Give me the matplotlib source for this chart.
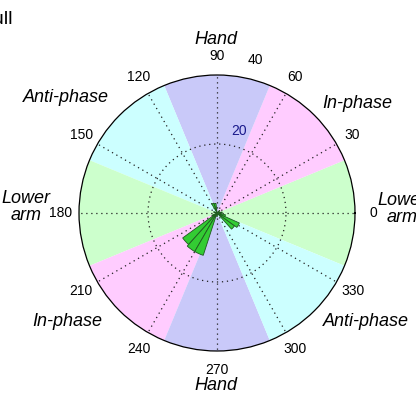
import numpy as np
import matplotlib
matplotlib.use('Agg')
import matplotlib.pyplot as plt

plt.rcParams['font.family'] = ['Liberation Sans', 'DejaVu Sans']

#background sectors (centre angle in degrees)
sector_centres = [0, 45, 90, 135, 180, 225, 270, 315]
sector_colours = ['#ccffcc', '#ffccff', '#c9c9f9', '#ccffff',
                  '#ccffcc', '#ffccff', '#c9c9f9', '#ccffff']

#rose histogram: bin centres (deg) and counts
bin_width = 12
bin_centres = [6, 42, 102, 114, 162, 210, 222, 234, 246, 270, 318, 330, 342, 354]
bin_counts = [1.5, 1.0, 2.8, 3.0, 1.0, 1.5, 12.3, 12.9, 12.9, 1.0, 6.3, 7.1, 2.5, 1.2]

#axis labels
angle_ticks = [0, 30, 60, 90, 120, 150, 180, 210, 240, 270, 300, 330]
radial_ticks = [20, 40]
r_max = 40

W, H = 416, 398
fig = plt.figure(figsize=(W / 100, H / 100), dpi=100)

def px(x, y):
    #pixel position (from top left) to figure fraction
    return x / W, 1 - y / H

cx, cy, rad = 217, 213, 138
ax = fig.add_axes([(cx - rad) / W, (H - cy - rad) / H, 2 * rad / W, 2 * rad / H],
                  projection='polar')
ax.set_ylim(0, r_max)
ax.grid(False)
ax.set_xticks([])
ax.set_yticks([])
ax.spines['polar'].set_linewidth(0.9)
ax.spines['polar'].set_color('black')

#coloured phase sectors
ax.bar(np.deg2rad(sector_centres), r_max, width=np.deg2rad(45), bottom=0,
       color=sector_colours, edgecolor='none', zorder=0)

#dotted spokes and the inner ring
dots = (0, (1, 3))
for a in angle_ticks:
    t = np.deg2rad(a)
    ax.plot([t, t], [0, r_max], color='#222222', lw=0.9, ls=dots, zorder=1)
ring_t = np.linspace(0, 2 * np.pi, 200)
ax.plot(ring_t, np.full_like(ring_t, radial_ticks[0]), color='#222222', lw=0.9,
        ls=dots, zorder=1)

#rose wedges
ax.bar(np.deg2rad(bin_centres), bin_counts, width=np.deg2rad(bin_width), bottom=0,
       color='#33cc33', edgecolor='#1f5a1f', linewidth=0.6, zorder=3)

#angle labels
for a in angle_ticks:
    ax.text(np.deg2rad(a), 45.4, str(a), ha='center', va='center', fontsize=10,
            clip_on=False)
ax.text(np.deg2rad(75), 24.5, str(radial_ticks[0]), ha='center', va='center',
        fontsize=10, color='#1a1a8c', clip_on=False)
ax.text(np.deg2rad(76), 45.8, str(radial_ticks[1]), ha='center', va='center',
        fontsize=10, clip_on=False)

#phase names
lab = dict(ha='center', va='center', fontsize=13, style='italic')
fig.text(*px(216, 40), 'Hand', **lab)
fig.text(*px(216, 385), 'Hand', **lab)
fig.text(*px(66, 98), 'Anti-phase', **lab)
fig.text(*px(357, 103), 'In-phase', **lab)
fig.text(*px(67, 321), 'In-phase', **lab)
fig.text(*px(366, 321), 'Anti-phase', **lab)
fig.text(*px(26, 207), 'Lower\narm', linespacing=1.0, **lab)
fig.text(*px(402, 209), 'Lower\narm', linespacing=1.0, **lab)

fig.text(*px(13, 20), 'Full', ha='right', va='center', fontsize=14)

fig.savefig('out.png', dpi=100)
